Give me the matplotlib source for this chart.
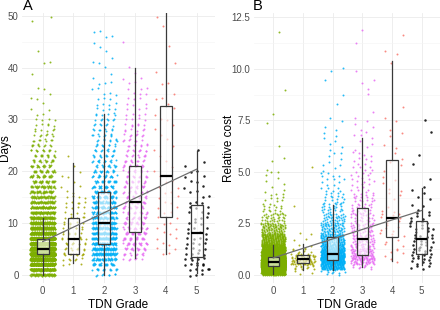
import numpy as np
import matplotlib
matplotlib.use('Agg')
import matplotlib.pyplot as plt
from matplotlib.ticker import MultipleLocator

plt.rcParams['font.family'] = ['Liberation Sans', 'DejaVu Sans']

grades = [0, 1, 2, 3, 4, 5]
grade_labels = ['0', '1', '2', '3', '4', '5']
grade_colors = ['#7CAE00', '#A3A500', '#00B0F6', '#E76BF3', '#F8766D', '#000000']

# ------------------------------------------------------------
# Panel A: number of patients per whole day (index = days 0,1,2,...)
# ------------------------------------------------------------
days_counts = [
    [60, 150, 280, 420, 600, 560, 470, 340, 200, 150,
     110, 85, 65, 60, 50, 45, 40, 35, 30, 26,
     24, 20, 17, 14, 12, 10, 8, 7, 6, 5,
     4, 2, 2, 1, 2, 1, 2, 0, 0, 1,
     0, 2, 0, 1, 0, 0, 0, 0, 0, 1, 1],
    [0, 0, 3, 6, 10, 9, 10, 10, 7, 6,
     6, 5, 4, 4, 5, 4, 2, 2, 1, 2,
     1, 1, 0, 1],
    [8, 15, 25, 40, 55, 60, 60, 58, 55, 48,
     46, 42, 40, 38, 35, 32, 30, 24, 22, 19,
     17, 15, 13, 12, 11, 10, 9, 9, 8, 7,
     7, 6, 4, 4, 3, 3, 2, 3, 1, 1,
     1, 2, 1, 1, 1, 1, 2, 2],
    [0, 0, 0, 6, 10, 16, 20, 20, 20, 17,
     16, 15, 15, 15, 14, 14, 13, 13, 12, 12,
     11, 11, 10, 9, 9, 8, 7, 7, 6, 6,
     4, 4, 3, 3, 3, 3, 3, 2, 2, 1,
     1, 0, 0, 0, 0, 1],
    [0, 0, 0, 0, 2, 2, 2, 2, 2, 2,
     2, 2, 2, 2, 2, 2, 2, 2, 2, 1,
     1, 1, 1, 1, 1, 1, 1, 1, 1, 1,
     2, 1, 1, 1, 2, 1, 0, 2, 0, 1,
     0, 1, 0, 0, 1, 0, 0, 0, 1, 0, 1],
    [3, 5, 6, 5, 4, 4, 4, 4, 3, 3,
     3, 3, 3, 3, 3, 2, 2, 2, 2, 2,
     2, 1, 1, 0, 1],
]

# box statistics
days_q1 = [4, 4, 6, 8.2, 11.1, 3.5]
days_med = [5, 7, 10, 14, 19.1, 8]
days_q3 = [7, 11, 16, 21, 32.6, 13.5]
days_lo = [0, 2.2, 0, 3.2, 4.1, 0.3]
days_hi = [11, 21.5, 31, 40, 55, 24]
days_fit = [6.4, 2.8]   # intercept, slope

# ------------------------------------------------------------
# Panel B: relative cost, patients per cost bin
# ------------------------------------------------------------
cost_edges = [0, 0.25, 0.5, 0.75, 1.0, 1.25, 1.5, 2.0, 2.5, 3.0,
              3.5, 4.0, 5.0, 6.0, 7.0, 8.0, 9.0, 10.0, 11.0, 12.5]
cost_counts = [
    [300, 1000, 1300, 500, 280, 170, 180, 80, 35, 16, 10, 8, 3, 1, 2, 1, 0, 0, 1],
    [3, 12, 40, 30, 6, 4, 3, 1, 0, 1, 0, 0, 1, 0, 0, 0, 0, 0, 0],
    [10, 90, 140, 180, 120, 80, 110, 60, 40, 25, 15, 18, 9, 7, 4, 2, 2, 1, 0],
    [0, 10, 35, 45, 35, 25, 40, 30, 25, 22, 18, 20, 15, 8, 6, 1, 4, 0, 2],
    [0, 0, 1, 2, 3, 3, 5, 6, 9, 3, 3, 5, 5, 4, 3, 1, 0, 3, 1],
    [0, 4, 5, 7, 6, 6, 12, 10, 7, 4, 3, 3, 2, 1, 1, 0, 0, 0, 0],
]

cost_q1 = [0.42, 0.58, 0.74, 0.95, 1.81, 1.03]
cost_med = [0.6, 0.76, 1.03, 1.76, 2.77, 1.72]
cost_q3 = [0.87, 0.95, 1.84, 3.25, 5.57, 2.61]
cost_lo = [0.03, 0.23, 0.23, 0.39, 0.68, 0.47]
cost_hi = [1.43, 1.47, 3.41, 6.64, 10.4, 4.22]
cost_fit = [0.82, 0.46]


def spread(n, step, start):
    # deterministic even spread in [-0.5, 0.5) used for jitter
    return np.mod(start + step * np.arange(n), 1.0) - 0.5


A1, A2 = 0.7548776662, 0.5698402910


def draw_panel(ax, xs_list, ys_list, q1, med, q3, lo, hi, fit):
    for g, xs, ys in zip(grades, xs_list, ys_list):
        col = grade_colors[g]
        size = 3.2 if g == 5 else 2.0
        ax.scatter(xs, ys, s=size, c=col, marker='o', linewidths=0,
                   alpha=0.85, zorder=2, clip_on=True)
    stats = [dict(q1=a, med=b, q3=c, whislo=d, whishi=e, fliers=[])
             for a, b, c, d, e in zip(q1, med, q3, lo, hi)]
    ax.bxp(stats, positions=grades, widths=0.38, showfliers=False,
           showcaps=False, patch_artist=True,
           boxprops=dict(facecolor=(1, 1, 1, 0.6), edgecolor='#3a3a3a', linewidth=0.9),
           whiskerprops=dict(color='#3a3a3a', linewidth=0.9),
           medianprops=dict(color='black', linewidth=1.6),
           zorder=3, manage_ticks=False)
    xf = np.array([grades[0], grades[-1]])
    ax.plot(xf, fit[0] + fit[1] * xf, color='#6e6e6e', lw=0.9, zorder=4)

    ax.set_xticks(grades)
    ax.set_xticklabels(grade_labels)
    for s in ax.spines.values():
        s.set_visible(False)
    ax.tick_params(which='both', length=0, labelsize=7, labelcolor='#4D4D4D', pad=2.5)
    ax.grid(True, which='major', color='#EBEBEB', lw=0.6)
    ax.grid(True, which='minor', axis='y', color='#F4F4F4', lw=0.45)
    ax.set_axisbelow(True)
    ax.set_xlabel('TDN Grade', fontsize=8.5, va='center')
    ax.xaxis.set_label_coords(0.5, -22 / 270)


fig = plt.figure(figsize=(4.4, 3.1), dpi=100)
axA = fig.add_axes([22 / 440, 1 - 283 / 310, 193 / 440, 270 / 310])
axB = fig.add_axes([254 / 440, 1 - 283 / 310, 185.5 / 440, 270 / 310])

# panel A points
xa, ya = [], []
for g, counts in zip(grades, days_counts):
    vals = np.repeat(np.arange(len(counts)), counts).astype(float)
    n = len(vals)
    xa.append(g + 0.8 * spread(n, A1, 0.21 + 0.1 * g))
    ya.append(vals + 0.42 * spread(n, A2, 0.37 + 0.1 * g))
draw_panel(axA, xa, ya, days_q1, days_med, days_q3, days_lo, days_hi, days_fit)
axA.set_xlim(-0.672, 5.594)
axA.set_ylim(-1.6, 50.58)
axA.set_yticks([0, 10, 20, 30, 40, 50])
axA.yaxis.set_minor_locator(MultipleLocator(5))
axA.set_ylabel('Days', fontsize=8.5, va='center')
axA.yaxis.set_label_coords(-17 / 193, 0.5)

# panel B points
xb, yb = [], []
edges = np.array(cost_edges)
for g, counts in zip(grades, cost_counts):
    lo_e = np.repeat(edges[:-1], counts)
    hi_e = np.repeat(edges[1:], counts)
    n = len(lo_e)
    frac = spread(n, A2, 0.13 + 0.1 * g) + 0.5
    xb.append(g + 0.8 * spread(n, A1, 0.29 + 0.1 * g))
    yb.append(lo_e + (hi_e - lo_e) * frac)
draw_panel(axB, xb, yb, cost_q1, cost_med, cost_q3, cost_lo, cost_hi, cost_fit)
axB.set_xlim(-0.650, 5.60)
axB.set_ylim(-0.40, 12.71)
axB.set_yticks([0, 2.5, 5.0, 7.5, 10.0, 12.5])
axB.set_yticklabels(['0.0', '2.5', '5.0', '7.5', '10.0', '12.5'])
axB.yaxis.set_minor_locator(MultipleLocator(1.25))
axB.set_ylabel('Relative cost', fontsize=8.5, va='center')
axB.yaxis.set_label_coords(-25.5 / 185.5, 0.5)

fig.text(28 / 440, 1 - 6 / 310, 'A', fontsize=10.5, ha='center', va='center')
fig.text(258 / 440, 1 - 6 / 310, 'B', fontsize=10.5, ha='center', va='center')

fig.savefig('out.png', dpi=100)
